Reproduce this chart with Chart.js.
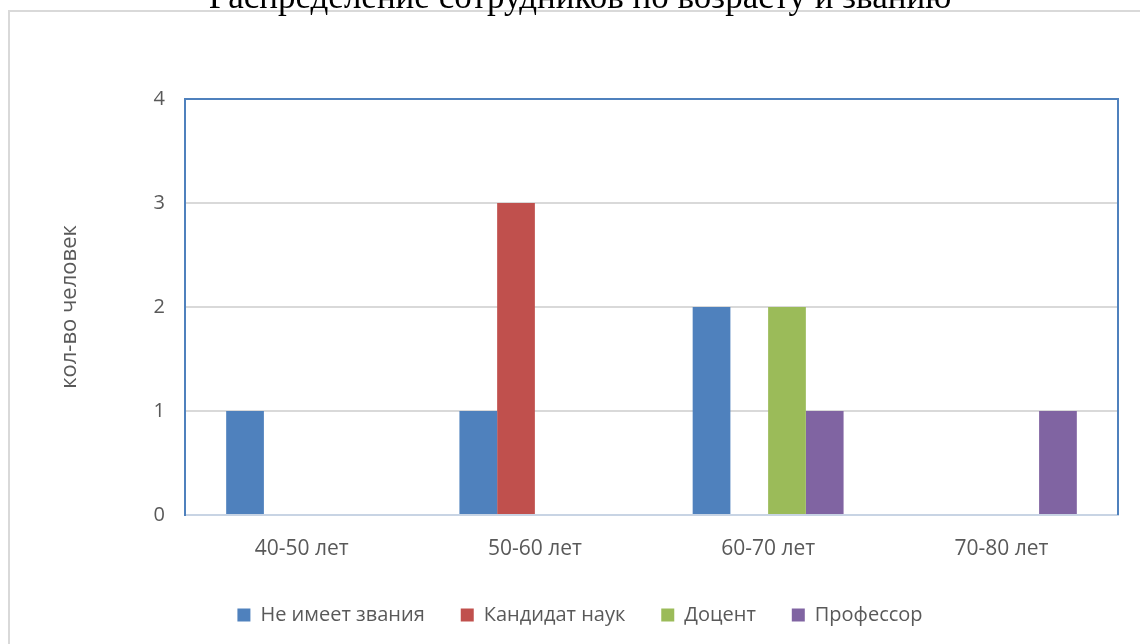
<!DOCTYPE html>
<html>
<head>
<meta charset="utf-8">
<script src="https://cdn.jsdelivr.net/npm/chart.js@4"></script>
<style>
  html, body { margin: 0; padding: 0; background: #fff; overflow: hidden; }
  #wrap { position: relative; width: 1140px; height: 644px; overflow: hidden; }
  #grafico { position: absolute; left: 0; top: -30px; }
</style>
</head>
<body>
<div id="wrap"><canvas id="grafico" width="1160" height="674"></canvas></div>
<script>
var categorias = ["40-50 лет", "50-60 лет", "60-70 лет", "70-80 лет"];
var semTitulo = [1, 1, 2, 0];
var candidato = [0, 3, 0, 0];
var docente = [0, 0, 2, 0];
var professor = [0, 0, 1, 1];
var ticksY = [0, 1, 2, 3, 4];

var fonte = "'Open Sans', 'Noto Sans', sans-serif";
var cinza = "#595959";

// moldura externa e bordas da area do grafico
var molduras = {
    id: "molduras",
    beforeDraw: function (chart) {
        var ctx = chart.ctx;
        ctx.save();
        ctx.fillStyle = "#fff";
        ctx.fillRect(0, 0, chart.width, chart.height);
        ctx.strokeStyle = "#D9D9D9";
        ctx.lineWidth = 2;
        ctx.strokeRect(9, 41, 1200, 700);
        ctx.restore();
    },
    afterDatasetsDraw: function (chart) {
        var a = chart.chartArea;
        var ctx = chart.ctx;
        ctx.save();
        ctx.strokeStyle = "#4F81BD";
        ctx.lineWidth = 2;
        ctx.beginPath();
        ctx.moveTo(a.left, a.bottom);
        ctx.lineTo(a.left, a.top);
        ctx.lineTo(a.right, a.top);
        ctx.lineTo(a.right, a.bottom);
        ctx.stroke();
        ctx.restore();
    }
};

new Chart(document.getElementById("grafico"), {
    type: "bar",
    data: {
        labels: categorias,
        datasets: [
            { label: "Не имеет звания", data: semTitulo, backgroundColor: "#4F81BD" },
            { label: "Кандидат наук", data: candidato, backgroundColor: "#C0504D" },
            { label: "Доцент", data: docente, backgroundColor: "#9BBB59" },
            { label: "Профессор", data: professor, backgroundColor: "#8064A2" }
        ]
    },
    options: {
        responsive: false,
        animation: false,
        categoryPercentage: 0.647,
        barPercentage: 1,
        layout: { padding: { left: 0, right: 0, top: 0, bottom: 9 } },
        plugins: {
            tooltip: { enabled: false },
            title: {
                display: true,
                text: "Распределение сотрудников по возрасту и званию",
                color: "#000",
                font: { family: "'Liberation Serif', 'DejaVu Serif', serif", size: 35, weight: "normal" },
                padding: { top: 8, bottom: 79 }
            },
            legend: {
                position: "bottom",
                labels: {
                    color: cinza,
                    font: { family: fonte, size: 20 },
                    boxWidth: 13,
                    boxHeight: 13,
                    padding: 36
                }
            }
        },
        scales: {
            x: {
                grid: { display: false, drawTicks: false },
                border: { color: "#C8D4E4", width: 2 },
                ticks: { color: cinza, font: { family: fonte, size: 21 }, padding: 21 },
                afterFit: function (scale) { scale.height = 54; }
            },
            y: {
                min: 0,
                max: 4,
                afterBuildTicks: function (scale) {
                    scale.ticks = ticksY.map(function (v) { return { value: v }; });
                },
                grid: { color: "#D9D9D9", lineWidth: 2, drawTicks: false },
                border: { color: "#4F81BD", width: 2 },
                ticks: { color: cinza, font: { family: fonte, size: 20 }, padding: 20 },
                title: {
                    display: true,
                    text: "кол-во человек",
                    color: cinza,
                    font: { family: fonte, size: 22 },
                    padding: { top: 57, bottom: 0 }
                },
                afterFit: function (scale) { scale.width = 185; }
            },
            // eixo vazio a direita, so para reservar a margem
            margemDireita: {
                position: "right",
                ticks: { display: false },
                grid: { display: false, drawTicks: false },
                border: { display: false },
                afterFit: function (scale) { scale.width = 42; }
            }
        }
    },
    plugins: [molduras]
});
</script>
</body>
</html>
